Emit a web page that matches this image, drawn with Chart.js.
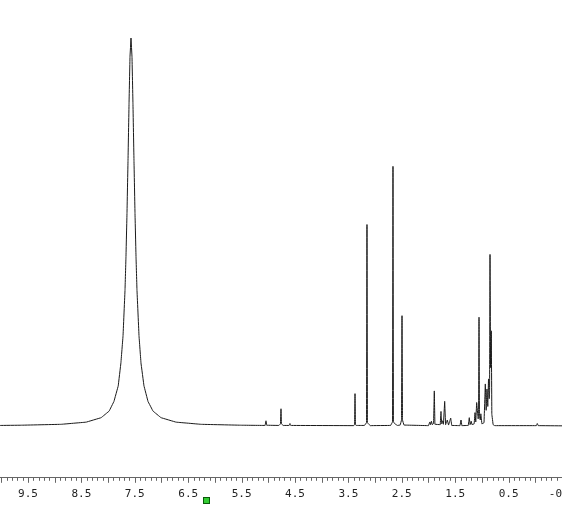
<!DOCTYPE html>
<html>
<head>
<meta charset="utf-8">
<title>1H NMR</title>
<script src="https://cdn.jsdelivr.net/npm/chart.js@4.4.1/dist/chart.umd.min.js"></script>
<style>
    html, body { margin: 0; padding: 0; background: #fff; }
    #wrap { width: 562px; height: 522px; position: relative; }
</style>
</head>
<body>
<div id="wrap"><canvas id="nmrChart"></canvas></div>
<script>
// ======================
// Spectrum data (ppm, relative intensity)
// ======================
const shiftPpm = [
    10.02, 9.63, 8.88, 8.41, 8.13, 7.98, 7.89, 7.81, 7.76, 7.72,
    7.683, 7.665, 7.646, 7.627, 7.608, 7.590, 7.571, 7.552, 7.534, 7.515,
    7.496, 7.477, 7.459, 7.421, 7.384, 7.328, 7.253, 7.159, 7.009, 6.728,
    6.26, 5.51,
    5.06, 5.043, 5.03,
    4.80, 4.772, 4.762, 4.754, 4.72,
    4.61, 4.594, 4.58,
    3.40, 3.384, 3.376, 3.368, 3.355,
    3.20, 3.16, 3.152, 3.144, 3.11, 3.09,
    2.71, 2.673, 2.665, 2.657, 2.62, 2.58,
    2.53, 2.505, 2.496, 2.487, 2.46,
    2.00, 1.975, 1.962, 1.945, 1.93,
    1.905, 1.891, 1.880,
    1.78, 1.766, 1.752, 1.735, 1.72, 1.697, 1.68, 1.648, 1.625, 1.584, 1.565,
    1.41, 1.391, 1.375,
    1.255, 1.236, 1.222, 1.20, 1.185,
    1.145, 1.129, 1.115, 1.098, 1.07, 1.062, 1.054, 1.046, 1.03, 1.02, 1.00,
    0.96, 0.936, 0.92, 0.905, 0.89, 0.876, 0.862, 0.856, 0.848, 0.838, 0.824, 0.814, 0.79, 0.76,
    -0.02, -0.037, -0.055,
    -0.5
];
const intensity = [
    0.10, 0.16, 0.39, 0.95, 2.1, 3.8, 6.3, 10.3, 16.2, 23.2,
    35.0, 43.6, 54.8, 68.3, 82.9, 95.1, 100, 95.1, 82.9, 68.3,
    54.8, 43.6, 35.0, 23.2, 16.2, 10.3, 6.3, 3.8, 2.1, 0.95,
    0.39, 0.16,
    0.1, 1.3, 0.15,
    0.1, 0.5, 4.4, 0.5, 0.1,
    0.1, 0.6, 0.1,
    0.05, 0.4, 8.3, 0.4, 0.1,
    0.1, 0.8, 51.9, 0.8, 0.3, 0.05,
    0.1, 1.0, 66.9, 1.0, 0.4, 0.1,
    0.2, 1.5, 28.4, 1.5, 0.2,
    0.05, 1.0, 0.3, 1.2, 0.3,
    0.6, 9.0, 0.4,
    0.3, 3.7, 0.5, 1.3, 0.4, 6.3, 0.3, 1.5, 0.2, 2.0, 0.1,
    0.05, 1.5, 0.05,
    0.1, 2.1, 0.3, 1.2, 0.3,
    0.5, 3.4, 1.0, 6.0, 1.8, 2.5, 28.0, 2.5, 1.5, 3.1, 0.5,
    0.8, 10.8, 4.0, 9.5, 5.0, 12.1, 7.0, 9.0, 44.2, 15.0, 24.5, 3.0, 0.3, 0.05,
    0.05, 0.6, 0.05,
    0.0
];

// axis range and labelled ticks
const ppmMin = -0.5;
const ppmMax = 10.024;
const labelStep = 0.5;
const markerPpm = 6.16;

// ======================
// Tick marks + marker
// ======================
const tickMarks = {
    id: 'tickMarks',
    afterDraw(chart) {
        const xs = chart.scales.x;
        const ctx = chart.ctx;
        const y0 = chart.chartArea.bottom;
        ctx.save();
        ctx.strokeStyle = '#666';
        ctx.lineWidth = 1;
        ctx.beginPath();
        for (let i = -5; i <= 100; i++) {
            const px = Math.round(xs.getPixelForValue(i / 10)) + 0.5;
            const len = (i % 5 === 0) ? 5 : 3;
            ctx.moveTo(px, y0);
            ctx.lineTo(px, y0 + len);
        }
        ctx.stroke();

        // small green marker under the axis
        const mx = Math.round(xs.getPixelForValue(markerPpm));
        ctx.fillStyle = '#33cc33';
        ctx.strokeStyle = '#0a5a0a';
        ctx.fillRect(mx - 3, 497, 7, 7);
        ctx.strokeRect(mx - 3 + 0.5, 497.5, 6, 6);
        ctx.restore();
    }
};

const nmrCanvas = document.getElementById('nmrChart');

new Chart(nmrCanvas, {
    type: 'line',
    data: {
        datasets: [{
            data: shiftPpm.map((x, i) => ({ x: x, y: intensity[i] })),
            borderColor: '#1a1a1a',
            borderWidth: 1,
            pointRadius: 0,
            tension: 0.00001,   // avoid the fast path, which stacks points per pixel column
            fill: false
        }]
    },
    options: {
        responsive: true,
        maintainAspectRatio: false,
        animation: false,
        layout: {
            padding: { left: 0, right: 0, top: 0, bottom: 11 }
        },
        scales: {
            x: {
                type: 'linear',
                reverse: true,
                min: ppmMin,
                max: ppmMax,
                grid: { display: false, drawTicks: false, tickLength: 0 },
                border: { display: true, color: '#666', width: 1 },
                ticks: {
                    stepSize: labelStep,
                    autoSkip: false,
                    maxRotation: 0,
                    minRotation: 0,
                    padding: 10,
                    color: '#222',
                    font: { family: 'DejaVu Sans Mono', size: 11 },
                    callback: function (v) {
                        const t = Math.round(v * 10);
                        if (Math.abs(t % 10) === 5) return (t / 10).toFixed(1);
                        return '';
                    }
                },
                afterFit: function (scale) {
                    scale.paddingLeft = 0;
                    scale.paddingRight = 0;
                }
            },
            y: {
                display: false,
                min: -13.4,
                max: 109.8
            }
        },
        plugins: {
            legend: { display: false },
            tooltip: { enabled: false }
        }
    },
    plugins: [tickMarks]
});
</script>
</body>
</html>
